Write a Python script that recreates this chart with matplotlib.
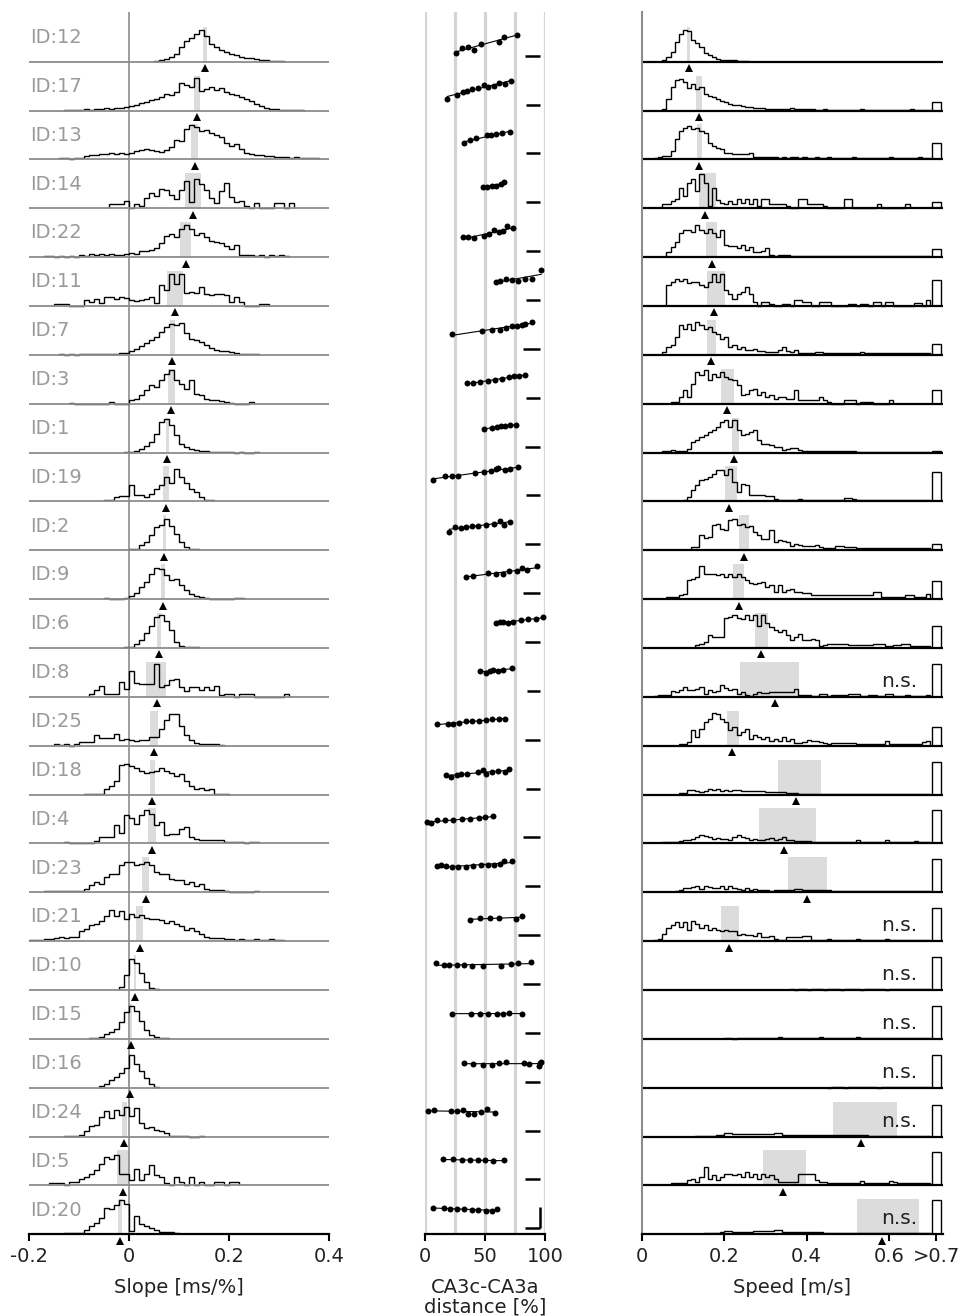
"""Slope / CA3 distance / speed panels per cell."""
import numpy as np
import matplotlib
matplotlib.use("Agg")
import matplotlib.pyplot as plt

plt.rcParams["font.family"] = ["DejaVu Sans"]
plt.rcParams["axes.unicode_minus"] = False

ids = [12, 17, 13, 14, 22, 11, 7, 3, 1, 19, 2, 9, 6, 8, 25, 18, 4, 23, 21, 10, 15, 16, 24, 5, 20]

# ---- slope column: CI band, median, histogram (first bin, heights; band height = 35)
slope_lo = [0.148, 0.130, 0.124, 0.112, 0.102, 0.076, 0.082, 0.077, 0.073, 0.067, 0.067, 0.064, 0.056,
            0.034, 0.042, 0.042, 0.038, 0.026, 0.014, 0.010, 0.001, -0.002, -0.014, -0.024, -0.023]
slope_hi = [0.155, 0.141, 0.137, 0.143, 0.123, 0.107, 0.091, 0.091, 0.080, 0.080, 0.074, 0.071, 0.063,
            0.073, 0.057, 0.052, 0.053, 0.040, 0.028, 0.014, 0.005, 0.002, -0.004, -0.001, -0.014]
slope_med = [0.151, 0.136, 0.131, 0.127, 0.114, 0.092, 0.086, 0.084, 0.076, 0.073, 0.070, 0.067, 0.059,
             0.055, 0.050, 0.046, 0.045, 0.033, 0.021, 0.011, 0.003, 0.001, -0.010, -0.012, -0.019]
slope_start = [0.05, -0.13, -0.14, -0.04, -0.17, -0.15, -0.14, -0.12, -0.01, -0.05, 0.00, -0.05, -0.01,
               -0.08, -0.15, -0.09, -0.13, -0.17, -0.20, -0.02, -0.08, -0.06, -0.13, -0.16, -0.13]
slope_hist = [
    [1, 2, 3, 5, 8, 15, 21, 24, 28, 32, 26, 18, 15, 12, 10, 8, 7, 5, 4, 4, 3, 2, 2, 1, 1, 1],
    [1, 1, 1, 1, 2, 1, 2, 2, 3, 2, 3, 3, 4, 5, 6, 8, 9, 11, 12, 14, 17, 16, 19, 28, 26, 24, 33, 20, 22, 24,
     21, 23, 19, 17, 16, 14, 12, 10, 7, 5, 3, 2, 2, 1, 1, 1, 1, 1],
    [1, 1, 0, 1, 1, 3, 4, 4, 5, 5, 6, 5, 6, 5, 6, 8, 9, 10, 9, 8, 7, 9, 12, 19, 18, 30, 34, 32, 28, 29,
     26, 24, 22, 16, 13, 15, 10, 6, 5, 4, 4, 3, 3, 2, 2, 2, 1, 2, 1, 1, 1, 1],
    [4, 4, 4, 7, 0, 4, 2, 10, 15, 12, 19, 18, 13, 9, 18, 27, 6, 29, 24, 18, 10, 5, 17, 25, 11, 6, 7, 2, 0, 5,
     0, 0, 0, 5, 5, 0, 5],
    [1, 1, 0, 1, 0, 1, 0, 2, 1, 3, 2, 3, 2, 3, 2, 2, 3, 4, 3, 6, 6, 7, 9, 14, 21, 23, 20, 28, 32, 28,
     22, 24, 20, 16, 15, 14, 11, 8, 12, 2, 2, 2, 1, 2, 0, 2, 1, 2, 1],
    [2, 2, 2, 0, 0, 0, 6, 4, 7, 3, 9, 9, 7, 9, 8, 6, 5, 6, 7, 9, 3, 21, 16, 32, 22, 32, 13, 14, 13, 19,
     12, 11, 12, 12, 11, 4, 9, 4, 0, 0, 0, 2, 2],
    [1, 0, 1, 0, 1, 1, 1, 1, 1, 1, 1, 1, 2, 2, 4, 6, 9, 12, 15, 18, 23, 28, 31, 30, 32, 22, 16, 15, 13, 10,
     7, 5, 4, 4, 3, 2, 1, 1, 1, 1],
    [1, 0, 0, 0, 0, 0, 0, 0, 2, 0, 0, 0, 4, 5, 9, 14, 19, 17, 24, 30, 34, 24, 20, 15, 24, 10, 9, 5, 4, 4,
     3, 2, 1, 0, 0, 0, 2],
    [1, 1, 2, 4, 7, 11, 19, 31, 34, 28, 18, 9, 6, 4, 3, 2, 2, 1, 1, 1, 1, 1, 0, 1, 0, 0, 1],
    [1, 1, 4, 5, 5, 16, 6, 6, 4, 7, 12, 16, 24, 18, 32, 24, 18, 12, 9, 4, 1, 1],
    [1, 1, 5, 8, 15, 23, 25, 31, 24, 16, 8, 3, 1, 1],
    [1, 0, 0, 0, 1, 3, 6, 12, 17, 25, 31, 30, 24, 19, 20, 14, 9, 5, 3, 2, 1, 0, 0, 0, 0, 0, 1, 1],
    [1, 1, 4, 8, 15, 22, 31, 33, 27, 18, 6, 2, 1, 1, 1],
    [3, 7, 11, 3, 3, 3, 15, 8, 26, 14, 13, 13, 13, 33, 10, 12, 17, 18, 10, 6, 10, 10, 7, 10, 7, 11, 2, 3, 3, 0,
     3, 3, 3, 0, 0, 0, 0, 0, 0, 3],
    [2, 1, 2, 0, 2, 4, 4, 4, 11, 8, 8, 8, 12, 6, 7, 6, 5, 6, 6, 9, 9, 17, 26, 32, 32, 20, 11, 6, 3, 2,
     2, 2, 2, 1],
    [1, 1, 1, 1, 6, 9, 14, 30, 31, 29, 27, 24, 22, 23, 24, 27, 24, 22, 19, 21, 14, 9, 6, 7, 5, 6, 1, 1, 1],
    [1, 0, 0, 0, 0, 0, 2, 6, 6, 6, 18, 10, 28, 25, 19, 28, 33, 29, 18, 21, 8, 9, 9, 14, 16, 6, 4, 3, 3, 3,
     3, 3, 1, 1, 1, 1, 0, 1, 1],
    [1, 1, 1, 1, 1, 1, 1, 1, 3, 7, 10, 8, 15, 18, 18, 27, 30, 30, 27, 28, 30, 27, 20, 18, 18, 13, 12, 12, 8, 10,
     6, 8, 3, 2, 2, 2, 1, 0, 0, 0, 0, 0, 1],
    [1, 1, 1, 2, 2, 3, 4, 3, 4, 4, 10, 12, 16, 17, 20, 25, 31, 25, 30, 22, 27, 24, 26, 23, 22, 22, 21, 18, 20, 17,
     15, 11, 13, 10, 7, 4, 3, 3, 3, 2, 2, 1, 2, 1, 1, 2, 1, 1, 2, 1, 1],
    [3, 15, 31, 27, 17, 8, 2, 1],
    [1, 1, 2, 5, 7, 10, 17, 27, 33, 28, 18, 9, 4, 2, 1, 1],
    [2, 4, 8, 11, 15, 20, 33, 24, 17, 10, 4, 1],
    [1, 1, 1, 2, 6, 11, 12, 20, 26, 19, 27, 22, 30, 21, 29, 14, 9, 10, 7, 6, 4, 1, 1, 1, 1, 0, 0, 1],
    [2, 2, 2, 0, 3, 3, 6, 8, 11, 15, 21, 28, 26, 30, 11, 11, 5, 16, 5, 11, 20, 10, 8, 2, 0, 8, 3, 0, 8, 0,
     3, 0, 0, 3, 3, 0, 3, 3],
    [1, 1, 1, 1, 4, 8, 11, 16, 26, 25, 29, 34, 30, 3, 18, 10, 8, 6, 4, 2, 2, 2, 1],
]

# ---- CA3c-CA3a distance column: dot positions and offsets above the reference dash
dist_x = [
    [25.8, 30.6, 35.6, 41.1, 46.7, 61.7, 65.6, 76.7],
    [18.6, 26.9, 31.4, 35.3, 39.4, 44.2, 49.2, 52.8, 57.2, 61.7, 66.7, 71.7],
    [32.8, 37.5, 42.5, 51.4, 55.0, 59.4, 63.9, 70.8],
    [48.1, 51.4, 55.6, 59.4, 63.3, 66.1],
    [31.4, 36.1, 41.1, 49.2, 53.3, 57.8, 61.9, 65.3, 68.1, 73.6],
    [58.9, 62.8, 67.2, 72.2, 77.8, 83.3, 88.9, 96.7],
    [22.2, 47.2, 55.6, 62.5, 67.5, 72.2, 76.4, 80.6, 83.3, 89.4],
    [34.7, 40.3, 46.1, 52.2, 58.3, 64.4, 70.0, 74.2, 78.6, 83.3],
    [49.4, 56.1, 59.7, 63.3, 66.7, 70.8, 75.8],
    [6.4, 16.7, 22.2, 27.8, 41.7, 48.9, 55.0, 59.2, 61.1, 66.7, 70.8, 77.2],
    [20.3, 25.0, 30.0, 33.9, 38.9, 44.4, 50.8, 57.2, 62.5, 66.1, 71.1],
    [33.9, 39.7, 52.2, 58.9, 65.3, 70.0, 76.9, 81.1, 84.7, 93.6],
    [59.2, 62.5, 65.3, 68.9, 73.6, 80.0, 86.1, 92.2, 98.6],
    [45.8, 50.8, 54.2, 56.9, 60.6, 65.3, 72.2],
    [9.7, 18.9, 23.6, 28.6, 34.2, 39.4, 45.3, 50.8, 56.1, 61.7, 66.7],
    [17.2, 21.7, 26.4, 30.0, 34.7, 43.9, 48.6, 50.8, 55.6, 60.6, 66.7, 70.3],
    [1.4, 5.0, 9.7, 16.7, 23.6, 30.6, 37.5, 45.0, 50.0, 56.9],
    [9.7, 13.3, 17.5, 22.2, 27.8, 33.9, 40.3, 46.7, 52.2, 57.8, 62.5, 66.1, 72.8],
    [37.5, 45.8, 54.2, 61.9, 75.8, 81.1],
    [9.2, 16.1, 20.3, 26.9, 32.8, 39.4, 48.1, 63.3, 71.4, 77.2, 88.1],
    [22.8, 38.3, 45.8, 52.2, 60.0, 64.7, 70.3, 81.1],
    [32.8, 40.3, 48.6, 55.6, 61.7, 67.5, 82.8, 86.9, 95.3, 95.8, 96.7],
    [2.2, 7.5, 21.7, 26.4, 31.9, 35.6, 41.1, 46.7, 51.4, 58.3],
    [14.7, 23.6, 30.6, 37.2, 44.2, 50.0, 56.4, 65.8],
    [6.4, 16.1, 20.8, 26.4, 32.5, 38.9, 44.4, 50.6, 55.6, 60.0],
]
dist_y = [
    [2.7, 7.3, 8.3, 6.0, 11.7, 13.3, 18.7, 21.0],
    [5.7, 10.0, 12.3, 13.7, 15.7, 17.0, 20.0, 17.3, 19.0, 21.7, 20.7, 23.3],
    [10.0, 13.0, 15.0, 18.0, 18.7, 19.0, 20.0, 21.0],
    [15.3, 15.7, 16.0, 16.3, 18.0, 20.7],
    [14.3, 13.7, 13.0, 14.7, 17.3, 20.7, 19.0, 19.7, 24.7, 23.0],
    [18.3, 19.3, 20.7, 20.0, 19.0, 20.7, 21.3, 30.0],
    [14.7, 17.7, 19.0, 19.3, 20.7, 22.7, 23.3, 24.3, 25.3, 27.0],
    [14.7, 14.7, 15.7, 16.7, 17.3, 18.7, 20.3, 21.3, 22.0, 23.0],
    [17.7, 18.7, 19.3, 20.3, 20.3, 21.3, 21.7],
    [15.3, 19.3, 19.7, 19.7, 22.0, 23.3, 24.0, 26.0, 27.0, 25.3, 26.7, 28.0],
    [12.3, 17.3, 16.7, 17.7, 18.3, 18.7, 19.0, 20.7, 23.0, 19.7, 22.3],
    [16.3, 17.3, 20.3, 19.3, 19.0, 22.3, 22.3, 24.7, 22.7, 26.7],
    [19.0, 19.7, 19.7, 19.0, 20.3, 21.7, 22.7, 23.0, 24.7],
    [20.0, 18.3, 19.7, 21.0, 20.0, 21.0, 22.7],
    [15.3, 15.7, 16.0, 16.7, 18.7, 18.7, 18.7, 19.3, 21.0, 20.3, 21.0],
    [13.7, 11.7, 13.7, 14.7, 14.7, 17.0, 18.7, 14.3, 16.3, 17.7, 16.7, 19.3],
    [15.0, 14.3, 17.0, 17.3, 17.7, 18.0, 18.7, 19.3, 20.0, 21.0],
    [20.0, 21.0, 20.0, 19.0, 19.0, 19.0, 20.0, 21.7, 21.0, 21.3, 22.7, 25.0, 25.7],
    [15.0, 17.3, 16.7, 17.3, 16.0, 19.0],
    [20.7, 19.0, 18.7, 19.0, 19.0, 18.0, 18.0, 18.3, 20.0, 21.3, 21.7],
    [19.3, 19.3, 18.7, 19.3, 19.3, 19.3, 20.3, 18.7],
    [19.0, 17.3, 17.0, 17.0, 18.3, 20.0, 18.3, 18.0, 15.7, 18.3, 19.7],
    [19.3, 21.0, 19.3, 19.3, 20.7, 16.3, 17.0, 18.7, 21.7, 18.0],
    [20.0, 20.0, 19.3, 19.3, 19.3, 19.0, 18.7, 19.0],
    [20.7, 20.0, 19.7, 19.0, 19.0, 18.7, 18.3, 17.7, 17.3, 19.3],
]
dash_left = [83.3, 84.2, 84.2, 84.2, 84.2, 84.2, 81.4, 83.9, 83.3, 84.2, 83.3, 82.0, 83.3,
             85.3, 83.3, 84.2, 82.0, 83.3, 77.8, 82.0, 83.3, 83.3, 83.3, 83.3, 83.3]
dash_right = 95.8

# ---- speed column
speed_lo = [0.110, 0.132, 0.134, 0.139, 0.156, 0.159, 0.159, 0.193, 0.218, 0.202, 0.235, 0.222, 0.275,
            0.239, 0.207, 0.331, 0.285, 0.355, 0.193, None, None, None, 0.464, 0.294, 0.523]
speed_hi = [0.117, 0.146, 0.146, 0.180, 0.182, 0.202, 0.180, 0.224, 0.236, 0.231, 0.261, 0.248, 0.306,
            0.382, 0.235, 0.434, 0.422, 0.450, 0.236, None, None, None, 0.620, 0.399, 0.672]
speed_med = [0.114, 0.138, 0.139, 0.154, 0.170, 0.176, 0.168, 0.207, 0.225, 0.213, 0.248, 0.235, 0.289,
             0.324, 0.220, 0.374, 0.345, 0.400, 0.213, None, None, None, 0.531, 0.342, 0.584]
speed_ns = [False] * 13 + [True, False, False, False, False, True, True, True, True, True, False, True]
speed_over = [0, 9, 16, 6, 8, 26, 11, 14, 2, 29, 6, 18, 22, 33, 19, 33, 33, 33, 33, 33, 33, 33, 32, 33, 34]
speed_start = [0.05, 0.05, 0.03, 0.05, 0.06, 0.06, 0.05, 0.07, 0.05, 0.10, 0.12, 0.06, 0.13,
               0.03, 0.09, 0.09, 0.05, 0.08, 0.03, 0.36, 0.20, 0.45, 0.13, 0.07, 0.15]
speed_hist = [
    [2, 5, 10, 20, 28, 32, 31, 22, 19, 15, 9, 7, 5, 3, 2, 2, 2, 2, 1, 1, 1],
    [2, 12, 24, 31, 32, 29, 23, 27, 22, 24, 17, 15, 14, 12, 10, 9, 7, 6, 6, 5, 4, 4, 3, 3, 3, 2, 2, 2, 2, 2,
     2, 3, 2, 2, 2, 2, 2, 1, 1, 2, 1, 1, 1, 1, 1, 1, 1, 1, 2, 1, 1, 1, 1, 1, 1, 1, 1, 1, 1, 1,
     2, 1, 1, 1, 1],
    [1, 2, 3, 3, 8, 20, 28, 31, 33, 30, 31, 28, 26, 16, 13, 11, 10, 6, 6, 5, 5, 5, 5, 6, 2, 2, 2, 2, 2, 2,
     1, 2, 1, 2, 2, 1, 2, 1, 1, 2, 1, 1, 2, 1, 1, 1, 1, 1, 2, 1, 1, 1, 1, 1, 1, 1, 1, 2, 1, 1,
     1, 1, 1, 1, 2, 1, 1],
    [4, 4, 7, 9, 20, 12, 25, 29, 17, 34, 25, 2, 20, 8, 5, 4, 7, 4, 9, 5, 9, 4, 9, 2, 9, 9, 4, 4, 4, 4,
     2, 0, 0, 9, 9, 4, 4, 4, 4, 2, 0, 0, 0, 0, 9, 9, 0, 0, 0, 0, 0, 0, 4, 0, 0, 0, 0, 0, 0, 4],
    [5, 10, 15, 24, 27, 27, 25, 32, 27, 24, 28, 24, 20, 27, 12, 11, 11, 9, 12, 7, 10, 5, 5, 6, 9, 2, 1, 2, 2, 2,
     1, 1, 1, 1, 1, 1, 1, 1, 1, 1, 1, 1, 1, 1, 1, 1, 1, 1, 1, 1, 1, 1, 1, 1, 1, 1, 1, 1, 1, 1,
     1, 1, 1, 1],
    [21, 24, 27, 25, 27, 23, 24, 24, 21, 19, 24, 32, 24, 32, 16, 12, 7, 12, 14, 19, 12, 4, 0, 4, 4, 2, 0, 0, 2, 2,
     0, 6, 6, 4, 4, 0, 0, 4, 4, 4, 0, 0, 0, 0, 2, 2, 0, 2, 2, 0, 4, 4, 0, 4, 4, 0, 0, 0, 0, 0,
     3, 3, 0, 6],
    [3, 8, 10, 18, 30, 26, 31, 25, 33, 30, 26, 28, 23, 21, 16, 18, 8, 10, 6, 8, 5, 5, 6, 4, 4, 3, 3, 3, 5, 8,
     4, 3, 5, 2, 2, 2, 2, 3, 3, 2, 2, 2, 2, 2, 2, 2, 2, 2, 3, 2, 2, 2, 2, 2, 2, 2, 2, 2, 2, 2,
     2, 2, 2, 2, 2],
    [2, 2, 7, 14, 7, 20, 32, 29, 34, 24, 30, 27, 32, 27, 25, 24, 19, 9, 10, 14, 15, 9, 12, 7, 9, 5, 7, 7, 5, 5,
     14, 4, 4, 4, 4, 4, 7, 4, 2, 0, 0, 0, 4, 4, 4, 0, 2, 2, 2, 0, 0, 0, 0, 4],
    [2, 2, 3, 2, 2, 2, 4, 11, 13, 16, 18, 21, 23, 26, 31, 33, 26, 33, 23, 18, 19, 21, 23, 13, 9, 9, 8, 6, 6, 3,
     4, 5, 5, 3, 2, 2, 2, 2, 2, 2, 2, 2, 2, 2, 2, 2, 2, 1, 1, 1, 1, 1, 1, 1, 1, 1, 1, 1, 1, 1,
     1, 1, 1, 1, 1],
    [1, 4, 11, 16, 21, 22, 24, 27, 31, 31, 26, 32, 19, 9, 17, 16, 6, 6, 6, 6, 5, 5, 2, 1, 1, 1, 1, 1, 2, 1,
     1, 1, 1, 1, 1, 1, 1, 1, 1, 3, 3, 2, 1, 1, 1, 1, 1, 1, 1, 1, 1, 1, 1, 1, 1, 1, 1, 1, 1, 1],
    [3, 3, 15, 12, 13, 25, 26, 21, 20, 30, 31, 25, 26, 23, 24, 18, 15, 11, 11, 20, 8, 10, 9, 8, 4, 6, 5, 4, 4, 4,
     5, 3, 2, 2, 2, 4, 4, 3, 3, 3, 2, 2, 2, 2, 2, 2, 2, 2, 2, 2, 2, 2, 2, 2, 2, 2, 2, 2],
    [2, 2, 2, 4, 5, 19, 20, 22, 33, 25, 25, 25, 24, 25, 22, 25, 22, 25, 22, 19, 16, 15, 16, 17, 12, 14, 7, 14, 7, 9,
     10, 7, 7, 6, 6, 4, 4, 4, 4, 4, 4, 4, 4, 4, 4, 4, 4, 4, 4, 4, 7, 7, 2, 2, 2, 2, 2, 2, 4, 4,
     2, 2, 2, 5],
    [3, 4, 6, 13, 11, 11, 11, 30, 31, 33, 30, 29, 33, 28, 33, 22, 33, 25, 21, 18, 16, 18, 13, 8, 11, 14, 8, 8, 9, 8,
     2, 3, 4, 4, 4, 4, 4, 3, 3, 3, 3, 3, 3, 4, 4, 4, 2, 2, 3, 3, 4, 4, 2, 2, 2, 2, 2],
    [1, 2, 2, 2, 6, 5, 7, 10, 7, 7, 8, 10, 3, 7, 5, 6, 12, 9, 7, 8, 3, 5, 2, 1, 3, 5, 4, 4, 5, 5,
     5, 5, 5, 5, 8, 2, 2, 2, 1, 1, 3, 3, 1, 2, 2, 2, 2, 3, 3, 3, 1, 1, 2, 2, 1, 1, 3, 3, 1, 1,
     1, 2, 1, 1, 1, 1, 2],
    [2, 2, 4, 16, 9, 17, 24, 27, 33, 32, 27, 24, 16, 19, 11, 14, 17, 7, 11, 9, 7, 9, 5, 7, 5, 9, 5, 7, 3, 3,
     4, 6, 5, 5, 4, 3, 2, 3, 3, 3, 3, 3, 3, 2, 2, 2, 2, 2, 2, 2, 5, 2, 2, 2, 2, 2, 2, 2, 2, 4,
     5],
    [2, 2, 5, 5, 4, 3, 4, 6, 5, 6, 4, 5, 4, 5, 5, 4, 4, 4, 4, 4, 4, 3, 3, 3, 3, 3, 2, 2, 2, 1,
     1, 1, 1, 1, 1, 1, 1, 1, 1, 1, 1, 1, 1, 1, 1, 1, 1, 1, 1, 1, 1, 1, 1, 1, 1, 1, 1, 1, 1, 1, 1],
    [1, 1, 1, 1, 2, 3, 3, 4, 6, 8, 7, 6, 4, 5, 4, 4, 3, 6, 8, 6, 5, 3, 4, 3, 3, 4, 5, 3, 4, 6,
     3, 3, 2, 2, 2, 2, 1, 1, 1, 1, 1, 1, 1, 1, 1, 1, 1, 3, 1, 1, 1, 1, 1, 1, 3, 1, 1, 1, 1, 1,
     1, 2, 1, 1, 1],
    [1, 2, 4, 4, 5, 6, 3, 6, 5, 4, 4, 6, 3, 6, 4, 3, 2, 4, 2, 3, 2, 2, 2, 1, 2, 2, 2, 2, 2, 3,
     3, 2, 2, 2, 2, 2, 2, 2, 1, 1, 1, 1, 1, 1, 1, 1, 1, 1, 1, 1, 1, 1, 1, 1, 1, 1, 1, 1, 1, 1, 1, 1],
    [1, 2, 7, 13, 16, 19, 14, 19, 11, 20, 17, 13, 16, 11, 13, 11, 10, 11, 10, 10, 6, 7, 6, 6, 5, 8, 4, 4, 5, 2,
     1, 1, 4, 4, 4, 4, 5, 5, 1, 1, 1, 1, 2, 1, 1, 1, 1, 1, 1, 2, 1, 1, 1, 1, 1, 1, 2, 1, 1, 1,
     1, 1, 1, 1, 1, 1, 1],
    [1, 0, 1, 1, 0, 1, 1, 1, 0, 1, 1, 1, 0, 1, 1, 1, 1, 0, 1, 1, 1, 1, 1, 0, 1, 1, 1, 1, 1, 1, 1, 1, 1, 1],
    [1, 1, 0, 1, 1, 1, 1, 1, 1, 1, 1, 1, 1, 2, 1, 1, 1, 1, 1, 1, 1, 1, 1, 2, 1, 1, 1, 1, 1, 1,
     1, 1, 2, 1, 1, 1, 1, 1, 1, 1, 1, 1, 1, 1, 1, 1, 1, 1, 1, 1],
    [0, 1, 1, 1, 0, 1, 1, 1, 1, 1, 1, 1, 0, 1, 1, 1, 1, 1, 1, 1, 1, 1, 1, 1, 1],
    [1, 1, 1, 1, 1, 2, 2, 4, 4, 3, 3, 3, 3, 3, 3, 3, 3, 3, 3, 4, 4, 2, 2, 2, 2, 2, 2, 2, 2, 2,
     2, 2, 2, 2, 2, 2, 2, 2, 2, 2, 2, 2, 1, 1, 1, 1, 1, 1, 1, 1, 1, 1, 1, 1, 1, 1, 1],
    [2, 2, 2, 2, 5, 6, 3, 8, 18, 6, 10, 5, 8, 11, 11, 10, 11, 8, 13, 8, 11, 6, 11, 8, 10, 6, 3, 3, 3, 3,
     3, 11, 11, 11, 11, 5, 3, 3, 2, 2, 2, 2, 2, 2, 2, 2, 4, 2, 2, 2, 2, 2, 2, 4, 3, 2, 2, 2, 2, 2,
     2, 2, 2],
    [1, 1, 1, 1, 2, 3, 3, 2, 2, 2, 2, 2, 3, 3, 3, 3, 3, 4, 4, 2, 2, 2, 2, 2, 2, 2, 2, 2, 2, 1,
     1, 1, 1, 1, 1, 1, 1, 1, 1, 1, 1, 1, 1, 1, 1, 1, 1, 1, 1, 1, 1, 1, 1, 1, 1],
]

BIN = 0.01
BAND = 35          # height of the CI band (px units)
ROW = 48.86        # row spacing (px units)
N = len(ids)
W, H = 973, 1316
TOP, BOT = 12, 1234.3
BAND_C = "#dcdcdc"
GREY = "#8c8c8c"
TXT = "#222222"

fig = plt.figure(figsize=(W / 100, H / 100), dpi=100)


def column(x0, x1):
    ax = fig.add_axes([x0 / W, (H - BOT) / H, (x1 - x0) / W, (BOT - TOP) / H])
    ax.set_ylim(0, BOT - TOP)
    ax.set_yticks([])
    for s in ("top", "right", "left"):
        ax.spines[s].set_visible(False)
    ax.spines["bottom"].set_linewidth(1.6)
    ax.tick_params(axis="x", length=5.3, width=1.5, labelsize=14, pad=3.5, labelcolor=TXT)
    return ax


def base(i):
    return (N - 1 - i) * ROW


# --- slope
ax = column(29, 329)
ax.set_xlim(-0.2, 0.4)
ax.axvline(0, color=GREY, lw=1.2, zorder=1.5)
for i, cid in enumerate(ids):
    yb = base(i)
    if i < N - 1:
        ax.axhline(yb, color=GREY, lw=1.3, zorder=2.5)
    ax.fill_between([slope_lo[i], slope_hi[i]], yb, yb + BAND, color=BAND_C, lw=0, zorder=1)
    h = np.array(slope_hist[i], float)
    edges = slope_start[i] + BIN * np.arange(len(h) + 1)
    ax.stairs(yb + h, edges, baseline=yb, color="k", lw=1.0, zorder=2)
    ax.plot(slope_med[i], yb - 6.5, "^", color="k", ms=6, mew=0, clip_on=False, zorder=3)
    ax.text(-0.198, yb + 18.7, f"ID:{cid}", color="#9a9a9a", fontsize=14, ha="left", va="baseline")
ax.set_xticks([-0.2, 0, 0.2, 0.4])
ax.set_xticklabels(["-0.2", "0", "0.2", "0.4"])
ax.set_xlabel("Slope [ms/%]", fontsize=14, color=TXT, labelpad=9)

# --- CA3c-CA3a distance
ax = column(425, 545)
ax.set_xlim(0, 100)
for g in (0, 25, 50, 75, 100):
    ax.axvline(g, color="#d4d4d4", lw=2.3, zorder=0)
for i in range(N):
    yd = base(i) + 6
    ax.plot([dash_left[i], dash_right], [yd, yd], color="k", lw=1.8, solid_capstyle="butt")
    x = np.array(dist_x[i])
    y = yd + np.array(dist_y[i])
    k, c = np.polyfit(x, y, 1)
    xs = np.array([x.min(), x.max()])
    ax.plot(xs, k * xs + c, color="k", lw=0.8, zorder=2)
    ax.plot(x, y, "o", color="k", ms=4.3, mew=0, clip_on=False, zorder=3)
# scale bar on the last row
yd = base(N - 1) + 6
ax.plot([dash_right, dash_right], [yd, yd + 21], color="k", lw=1.8, solid_capstyle="butt")
ax.set_xticks([0, 50, 100])
ax.set_xticklabels(["0", "50", "100"])
ax.set_xlabel("CA3c-CA3a\ndistance [%]", fontsize=14, color=TXT, labelpad=9, linespacing=1.0)

# --- speed
ax = column(641.7, 943)
ax.set_xlim(0, 0.731)
ax.spines["left"].set_visible(True)
ax.spines["left"].set_color(GREY)
ax.spines["left"].set_linewidth(1.5)
for i in range(N):
    yb = base(i)
    if i < N - 1:
        ax.axhline(yb, color="k", lw=1.6, zorder=2.5)
    if speed_lo[i] is not None:
        ax.fill_between([speed_lo[i], speed_hi[i]], yb, yb + BAND, color=BAND_C, lw=0, zorder=1)
        ax.plot(speed_med[i], yb - 6.5, "^", color="k", ms=6, mew=0, clip_on=False, zorder=3)
    h = np.array(speed_hist[i], float)
    edges = speed_start[i] + BIN * np.arange(len(h) + 1)
    ax.stairs(yb + h, edges, baseline=yb, color="k", lw=1.0, zorder=2)
    if speed_over[i] > 0:
        ax.stairs([yb + speed_over[i]], [0.704, 0.725], baseline=yb, color="k", lw=1.0, zorder=2)
    if speed_ns[i]:
        ax.text(0.668, yb + 10, "n.s.", fontsize=14.5, color=TXT, ha="right", va="baseline", zorder=4)
ax.set_xticks([0, 0.2, 0.4, 0.6, 0.7145])
ax.set_xticklabels(["0", "0.2", "0.4", "0.6", ">0.7"])
ax.set_xlabel("Speed [m/s]", fontsize=14, color=TXT, labelpad=9)

fig.savefig("out.png", dpi=100)
